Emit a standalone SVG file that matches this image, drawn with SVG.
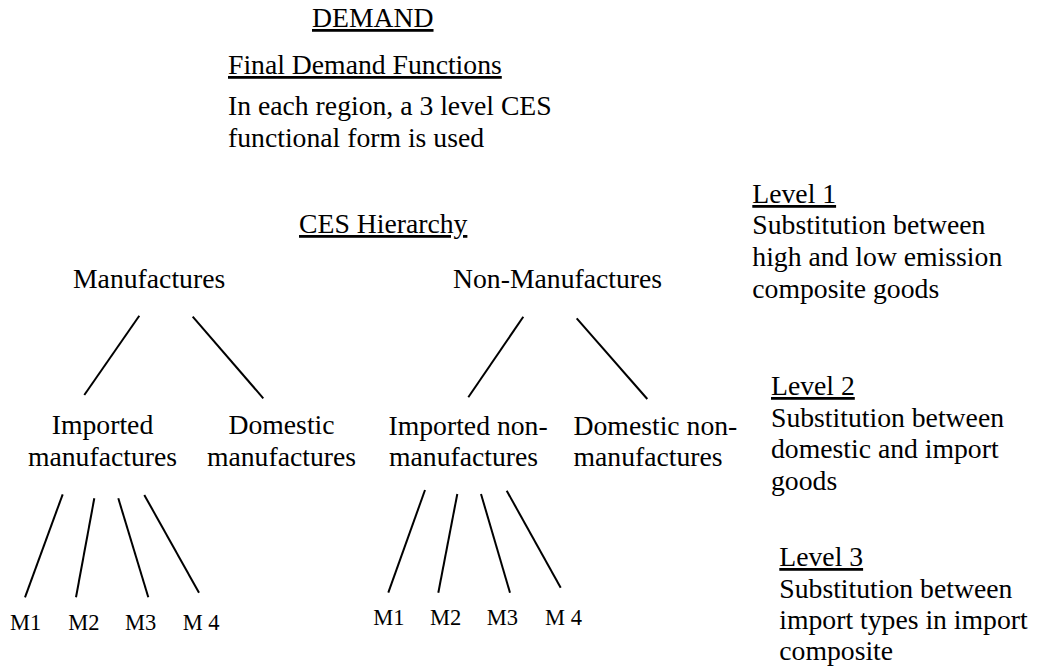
<svg xmlns="http://www.w3.org/2000/svg" width="1046" height="669" viewBox="0 0 1046 669">
<style>
text{font-family:"Liberation Serif","Times New Roman",serif;fill:#000;font-size:27.7px}
.u{text-decoration:underline}
.m{font-size:22.5px}
.c{text-anchor:middle}
.conn line{stroke:#000;stroke-width:2;stroke-linecap:butt}
</style>
<rect width="1046" height="669" fill="#fff"/>
<g id="title"><text x="312" y="27" class="u">DEMAND</text></g>
<g id="final-demand"><text x="228" y="74" class="u">Final Demand Functions</text></g>
<g id="description"><text x="228" y="115">In each region, a 3 level CES</text><text x="228" y="147">functional form is used</text></g>
<g id="ces-hierarchy"><text x="299" y="233" class="u">CES Hierarchy</text></g>
<g id="manufactures"><text x="73" y="288">Manufactures</text></g>
<g id="non-manufactures"><text x="453" y="288">Non-Manufactures</text></g>
<g id="imported-manufactures"><text x="102.5" y="434" class="c">Imported</text><text x="102.5" y="465.5" class="c">manufactures</text></g>
<g id="domestic-manufactures"><text x="281.5" y="434" class="c">Domestic</text><text x="281.5" y="465.5" class="c">manufactures</text></g>
<g id="imported-non-manufactures"><text x="388.5" y="435">Imported non-</text><text x="389" y="466">manufactures</text></g>
<g id="domestic-non-manufactures"><text x="573.5" y="435">Domestic non-</text><text x="573.5" y="466">manufactures</text></g>
<g id="left-m1"><text x="10" y="630" class="m">M1</text></g>
<g id="left-m2"><text x="68.3" y="630" class="m">M2</text></g>
<g id="left-m3"><text x="125" y="630" class="m">M3</text></g>
<g id="left-m4"><text x="182.7" y="630" class="m">M 4</text></g>
<g id="right-m1"><text x="373.3" y="625" class="m">M1</text></g>
<g id="right-m2"><text x="430" y="625" class="m">M2</text></g>
<g id="right-m3"><text x="486.7" y="625" class="m">M3</text></g>
<g id="right-m4"><text x="545" y="625" class="m">M 4</text></g>
<g id="level1"><text x="752.3" y="203" class="u">Level 1</text><text x="752.3" y="234">Substitution between</text><text x="752.3" y="266">high and low emission</text><text x="752.3" y="297.5">composite goods</text></g>
<g id="level2"><text x="771" y="395" class="u">Level 2</text><text x="771" y="426.7">Substitution between</text><text x="771" y="458">domestic and import</text><text x="771" y="490">goods</text></g>
<g id="level3"><text x="779.3" y="566" class="u">Level 3</text><text x="779.3" y="597.7">Substitution between</text><text x="779.3" y="629.3">import types in import</text><text x="779.3" y="660">composite</text></g>
<g id="connectors" class="conn">
<line x1="139.3" y1="315.7" x2="84.3" y2="395"/>
<line x1="192.7" y1="316.7" x2="263.3" y2="398.3"/>
<line x1="523.3" y1="316.7" x2="468.3" y2="397.3"/>
<line x1="576.7" y1="318.3" x2="647.3" y2="399"/>
<line x1="62.7" y1="494.3" x2="25" y2="597.3"/>
<line x1="94.3" y1="498.3" x2="76" y2="597.3"/>
<line x1="118.3" y1="498.3" x2="148.3" y2="597.3"/>
<line x1="144.3" y1="495" x2="199" y2="592.7"/>
<line x1="425" y1="490" x2="388.3" y2="592.7"/>
<line x1="457.3" y1="494" x2="438.3" y2="592.7"/>
<line x1="481" y1="494" x2="510" y2="592.7"/>
<line x1="506.7" y1="490.7" x2="560.7" y2="587.7"/>
</g>
</svg>
